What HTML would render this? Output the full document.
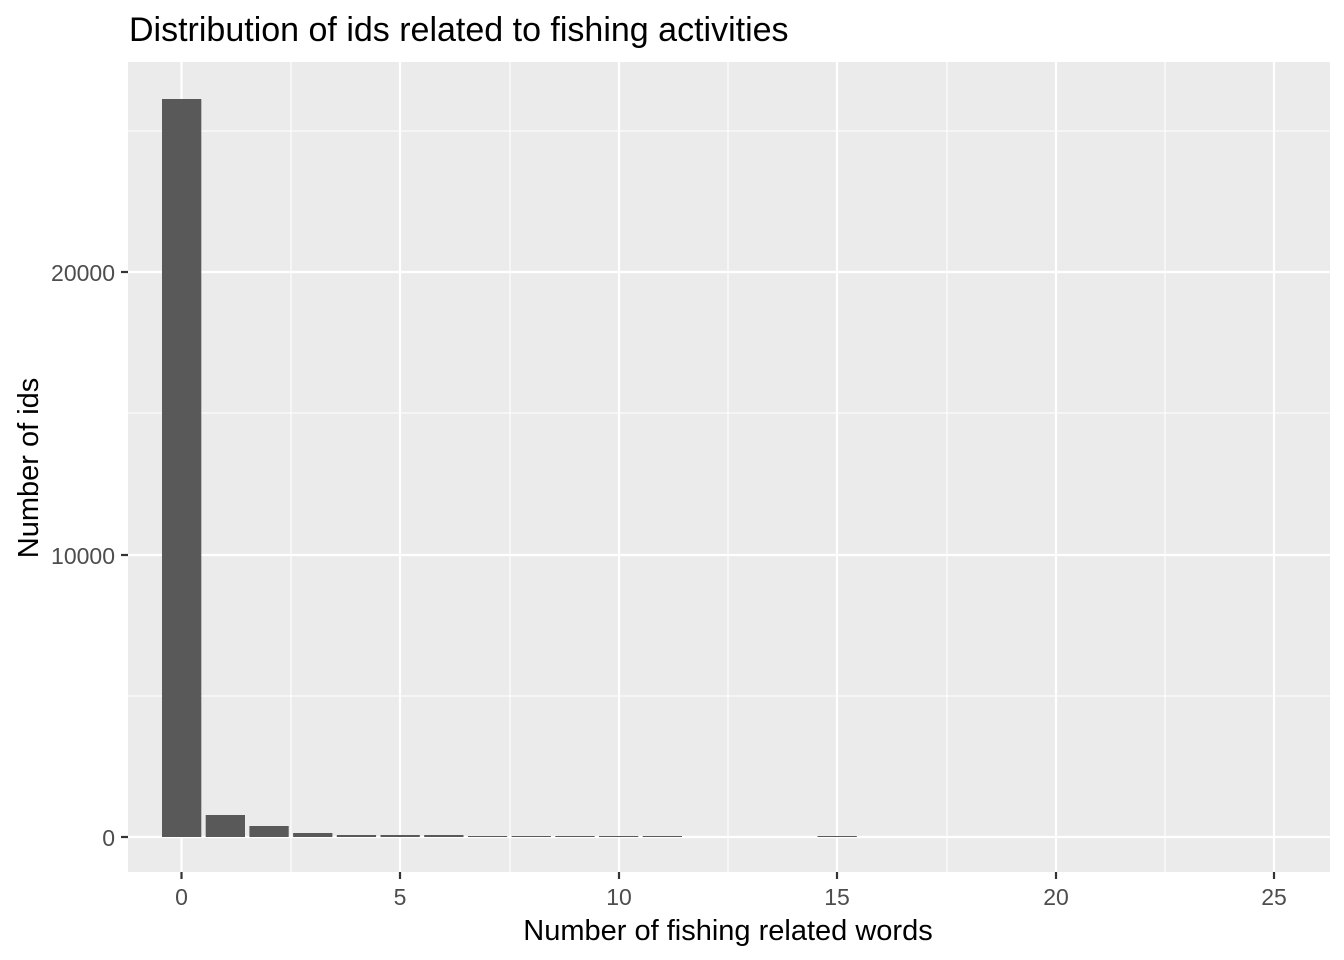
<!DOCTYPE html>
<html><head><style>body{margin:0;background:#fff}svg{display:block}</style></head><body>
<svg width="1344" height="960" xmlns="http://www.w3.org/2000/svg" font-family="Liberation Sans, sans-serif">
<rect x="128" y="62" width="1202" height="810" fill="#EBEBEB"/>
<g stroke="#fff" stroke-width="1.1">
<line x1="128" x2="1330" y1="696" y2="696"/><line x1="128" x2="1330" y1="413" y2="413"/><line x1="128" x2="1330" y1="131" y2="131"/>
<line y1="62" y2="872" x1="291" x2="291"/><line y1="62" y2="872" x1="510" x2="510"/><line y1="62" y2="872" x1="728" x2="728"/><line y1="62" y2="872" x1="947" x2="947"/><line y1="62" y2="872" x1="1165" x2="1165"/>
</g>
<g stroke="#fff" stroke-width="2.2">
<line x1="128" x2="1330" y1="837" y2="837"/><line x1="128" x2="1330" y1="555" y2="555"/><line x1="128" x2="1330" y1="272" y2="272"/>
<line y1="62" y2="872" x1="181.5" x2="181.5"/><line y1="62" y2="872" x1="400" x2="400"/><line y1="62" y2="872" x1="619" x2="619"/><line y1="62" y2="872" x1="837" x2="837"/><line y1="62" y2="872" x1="1056" x2="1056"/><line y1="62" y2="872" x1="1274" x2="1274"/>
</g>
<g fill="#595959">
<rect x="162" y="99" width="39.3" height="738"/>
<rect x="205.7" y="815" width="39.3" height="22"/>
<rect x="249.4" y="826" width="39.3" height="11"/>
<rect x="293.1" y="833" width="39.3" height="4"/>
<rect x="336.8" y="835" width="39.3" height="2"/>
<rect x="380.5" y="835" width="39.3" height="2"/>
<rect x="424.2" y="835" width="39.3" height="2"/>
<rect x="467.9" y="836" width="39.3" height="1"/>
<rect x="511.6" y="836" width="39.3" height="1"/>
<rect x="555.3" y="836" width="39.3" height="1"/>
<rect x="599" y="836" width="39.3" height="1"/>
<rect x="642.7" y="836" width="39.3" height="1"/>
<rect x="817.5" y="836" width="39.3" height="1"/>
</g>
<g stroke="#333" stroke-width="2.2">
<line x1="121" x2="128" y1="837" y2="837"/><line x1="121" x2="128" y1="555" y2="555"/><line x1="121" x2="128" y1="272" y2="272"/>
<line y1="872" y2="879" x1="181.5" x2="181.5"/><line y1="872" y2="879" x1="400" x2="400"/><line y1="872" y2="879" x1="619" x2="619"/><line y1="872" y2="879" x1="837" x2="837"/><line y1="872" y2="879" x1="1056" x2="1056"/><line y1="872" y2="879" x1="1274" x2="1274"/>
</g>
<g fill="#4D4D4D" font-size="23" text-anchor="end">
<text x="115" y="846">0</text><text x="115" y="564">10000</text><text x="115" y="281">20000</text>
</g>
<g fill="#4D4D4D" font-size="23" text-anchor="middle">
<text x="181.5" y="905">0</text><text x="400" y="905">5</text><text x="619" y="905">10</text><text x="837" y="905">15</text><text x="1056" y="905">20</text><text x="1274" y="905">25</text>
</g>
<text x="728" y="940" font-size="29" text-anchor="middle">Number of fishing related words</text>
<text transform="translate(38,468) rotate(-90)" font-size="29" text-anchor="middle">Number of ids</text>
<text x="129" y="41" font-size="34">Distribution of ids related to fishing activities</text>
</svg>
</body></html>
